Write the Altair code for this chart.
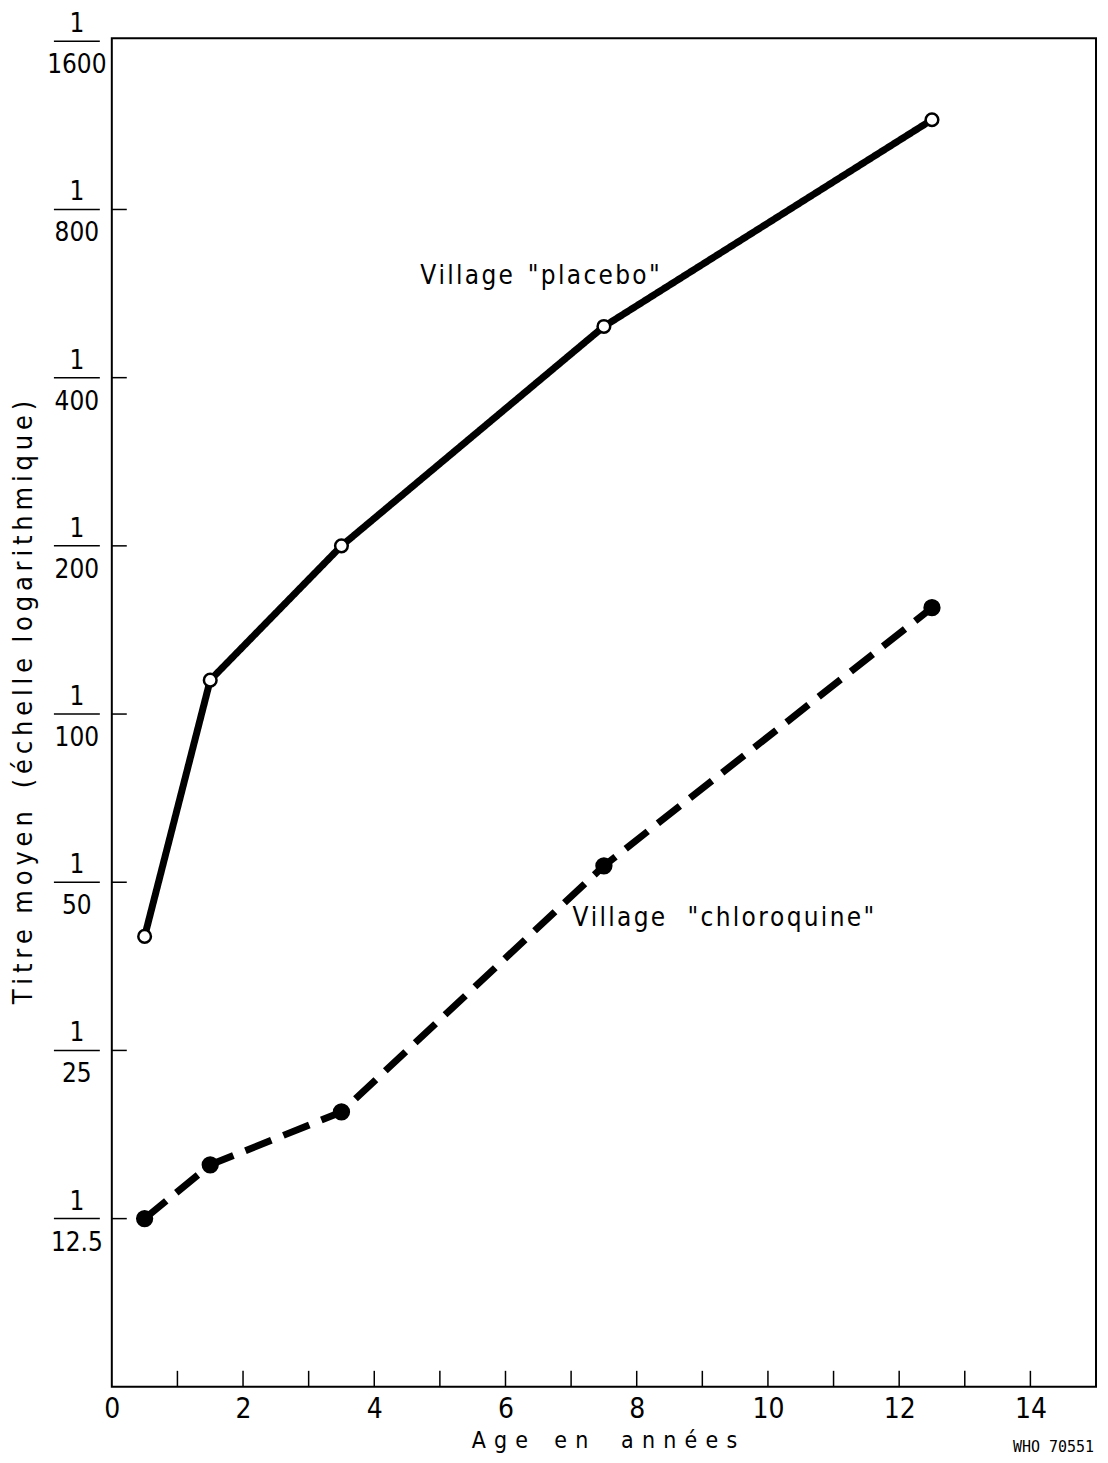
import altair as alt
import pandas as pd

ages = [0.5, 1.5, 3.5, 7.5, 12.5]
placebo = [40, 115, 200, 494, 1158]
chloroquine = [12.5, 15.6, 19.4, 53.5, 155]
series_names = ['Village "placebo"', 'Village "chloroquine"']

y_ticks = [1600, 800, 400, 200, 100, 50, 25, 12.5]
y_tick_labels = ["1600", "800", "400", "200", "100", "50", "25", "12.5"]
x_minor_ticks = list(range(1, 15))
x_label_values = [0, 2, 4, 6, 8, 10, 12, 14]

HS = "\u200a"   # hair space for letter spacing
TS = "\u2009"   # thin space
NB = "\u00a0"   # non-breaking space (word gap)


def spaced(words, sep, gaps):
    out = sep.join(list(words[0]))
    for w, g in zip(words[1:], gaps):
        out += NB * g + sep.join(list(w))
    return out


ann_text = [spaced(["Village", '"placebo"'], HS, [2]), spaced(["Village", '"chloroquine"'], HS, [3])]
ann_x = [4.7, 7.02]
ann_y = [607, 43.2]

FONT = "DejaVu Sans Condensed, DejaVu Sans"
W, H = 986, 1351

rows = []
for a, p, c in zip(ages, placebo, chloroquine):
    rows.append({"age": a, "titre": p, "series": series_names[0]})
    rows.append({"age": a, "titre": c, "series": series_names[1]})
df = pd.DataFrame(rows)

ticks_df = pd.DataFrame({"v": y_ticks, "lab": y_tick_labels})
xt_df = pd.DataFrame({"x": x_minor_ticks})
ann_df = pd.DataFrame({"t": ann_text, "x": ann_x, "y": ann_y})

xs = alt.Scale(domain=[0, 15], nice=False, zero=False)
ys = alt.Scale(type="log", domain=[6.25, 1620], nice=False)

xax = alt.Axis(values=x_label_values, format="d", ticks=False, domain=False, grid=False,
               labelFlush=False, labelFontSize=28, labelFont=FONT, labelColor="black", labelPadding=9,
               title=spaced(["Age", "en", "années"], TS * 2, [4, 5]),
               titleFontSize=23, titleFont=FONT, titleFontWeight="normal", titleColor="black",
               titlePadding=6)
yax = alt.Axis(labels=False, ticks=False, domain=False, grid=False,
               title=spaced(["Titre", "moyen", "(échelle", "logarithmique)"], TS, [2, 3, 2]),
               titleFontSize=27, titleFont=FONT, titleFontWeight="normal", titleColor="black",
               titlePadding=74, titleY=665)

base = alt.Chart(df)

lines = base.mark_line(strokeWidth=7, color="black").encode(
    x=alt.X("age:Q", scale=xs, axis=xax),
    y=alt.Y("titre:Q", scale=ys, axis=yax),
    strokeDash=alt.StrokeDash("series:N", scale=alt.Scale(domain=series_names, range=[[1, 0], [28, 13]]), legend=None),
    detail="series:N",
)

points = base.mark_point(filled=True, opacity=1, stroke="black", strokeWidth=2.5).encode(
    x=alt.X("age:Q", scale=xs),
    y=alt.Y("titre:Q", scale=ys),
    fill=alt.Fill("series:N", scale=alt.Scale(domain=series_names, range=["white", "black"]), legend=None),
    size=alt.Size("series:N", scale=alt.Scale(domain=series_names, range=[160, 220]), legend=None),
    shape=alt.value("circle"),
)

ytick_rules = alt.Chart(ticks_df).transform_filter("datum.v < 1600").mark_rule(color="black", strokeWidth=1.5).encode(
    y=alt.Y("v:Q", scale=ys), x=alt.value(0), x2=alt.value(15))
frac_bars = alt.Chart(ticks_df).mark_rule(color="black", strokeWidth=1.5).encode(
    y=alt.Y("v:Q", scale=ys), x=alt.value(-58), x2=alt.value(-12))
num = alt.Chart(ticks_df).mark_text(font=FONT, fontSize=26, color="black", align="center", baseline="middle", dy=-17).encode(
    y=alt.Y("v:Q", scale=ys), x=alt.value(-35), text=alt.value("1"))
den = alt.Chart(ticks_df).mark_text(font=FONT, fontSize=26, color="black", align="center", baseline="middle", dy=24).encode(
    y=alt.Y("v:Q", scale=ys), x=alt.value(-35), text="lab:N")

xtick_rules = alt.Chart(xt_df).mark_rule(color="black", strokeWidth=1.5).encode(
    x=alt.X("x:Q", scale=xs), y=alt.value(H), y2=alt.value(H - 16))

ann = alt.Chart(ann_df).mark_text(font=FONT, fontSize=26, color="black", align="left", baseline="middle").encode(
    x=alt.X("x:Q", scale=xs), y=alt.Y("y:Q", scale=ys), text="t:N")

who = alt.Chart(pd.DataFrame({"t": ["WHO 70551"]})).mark_text(
    font="DejaVu Sans Mono", fontSize=15, color="black", align="right", baseline="middle").encode(
    x=alt.value(W - 2), y=alt.value(H + 60), text="t:N")

chart = alt.layer(lines, points, ytick_rules, frac_bars, num, den, xtick_rules, ann, who).properties(
    width=W, height=H,
    autosize=alt.AutoSizeParams(type="none"),
    padding={"left": 104, "top": 29, "right": 4, "bottom": 70},
).configure(background="white").configure_view(stroke="black", strokeWidth=2)

chart.save("out.html", embed_options={"renderer": "svg", "actions": False})
